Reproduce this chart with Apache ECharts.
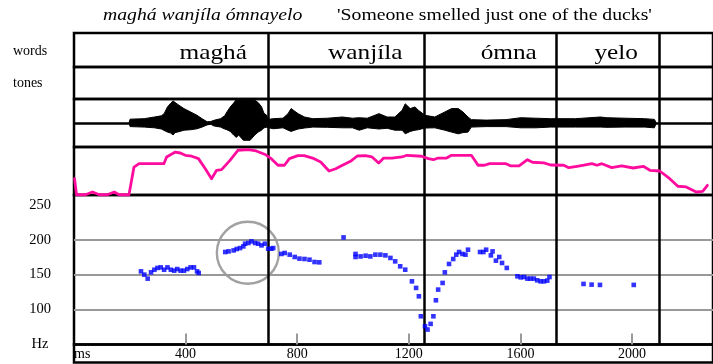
<!DOCTYPE html>
<html>
<head>
<meta charset="utf-8">
<script src="https://cdn.jsdelivr.net/npm/echarts@6.0.0/dist/echarts.min.js"></script>
<style>
  html, body { margin: 0; padding: 0; background: #fff; }
  #chart { width: 713px; height: 364px; }
</style>
</head>
<body>
<div id="chart"></div>
<script>
// ---- Utterance annotation ----
const sentence = 'maghá wanjíla ómnayelo';
const gloss = "'Someone smelled just one of the ducks'";
const tierNames = ['words', 'tones'];
const words = ['maghá', 'wanjíla', 'ómna', 'yelo'];
const wordLabelMs = [499, 1044, 1558, 1943];      // where each word label sits
const wordBoundaryMs = [696, 1254, 1730, 2096];   // word boundaries (ms)

// ---- Time axis ----
const timeMaxMs = 2290;
const timeTickMs = [400, 800, 1200, 1600, 2000];
const timeLabelMs = [0, 400, 800, 1200, 1600, 2000];
const timeUnit = 'ms';

// ---- Pitch axis ----
const hzMin = 50, hzMax = 264, hzStep = 50;
const hzUnit = 'Hz';
const pitchGridHz = [100, 150, 200];

// ---- Waveform envelope (normalised amplitude) ----
const waveMs = [197,201,252,288,313,323,335,347,355,362,371,394,418,441,459,477,490,501,525,540,
  548,560,572,582,590,607,631,648,660,672,681,690,696,714,749,767,778,785,803,826,
  856,909,962,998,1022,1051,1093,1122,1150,1176,1187,1205,1222,1234,1258,1293,1329,1353,1377,1394,
  1412,1424,1477,1548,1601,1655,1708,1797,1886,1910,1974,2045,2080,2087];
const waveTop = [0,0.16,0.18,0.25,0.3,0.39,0.67,0.83,0.92,0.88,0.78,0.6,0.46,0.32,0.18,0.05,0.06,0.11,0.18,0.3,
  0.46,0.67,0.83,0.98,1.0,1.0,1.0,0.95,0.85,0.68,0.4,0.33,0.15,0.18,0.2,0.39,0.6,0.67,0.39,0.25,
  0.18,0.2,0.25,0.2,0.22,0.2,0.39,0.25,0.25,0.53,0.8,0.6,0.67,0.53,0.32,0.25,0.46,0.6,0.6,0.46,
  0.25,0.14,0.12,0.14,0.22,0.2,0.18,0.18,0.25,0.22,0.2,0.18,0.15,0];
const waveBottom = [0,-0.15,-0.17,-0.2,-0.25,-0.31,-0.38,-0.42,-0.5,-0.4,-0.38,-0.3,-0.28,-0.24,-0.17,-0.08,-0.05,-0.12,-0.17,-0.25,
  -0.28,-0.35,-0.5,-0.6,-0.5,-0.72,-0.72,-0.5,-0.38,-0.3,-0.2,-0.18,-0.12,-0.24,-0.2,-0.3,-0.35,-0.38,-0.25,-0.21,
  -0.17,-0.18,-0.2,-0.2,-0.3,-0.2,-0.25,-0.22,-0.3,-0.3,-0.45,-0.35,-0.3,-0.28,-0.21,-0.2,-0.3,-0.38,-0.45,-0.4,
  -0.38,-0.17,-0.15,-0.15,-0.2,-0.2,-0.17,-0.17,-0.17,-0.18,-0.17,-0.17,-0.2,0];

// ---- Intensity contour (dB) ----
const intensityMs = [2,9,41,66,91,119,144,162,197,215,233,322,332,363,381,399,422,446,470,493,
  511,529,559,588,624,653,683,707,731,754,772,802,825,855,884,914,938,962,991,1015,
  1044,1068,1092,1110,1139,1175,1193,1246,1270,1288,1305,1335,1353,1424,1435,1448,1471,1489,1548,1566,
  1595,1625,1643,1684,1708,1755,1773,1803,1827,1856,1874,1892,1927,1963,2004,2040,2064,2099,2135,2164,
  2194,2230,2253,2270];
const intensityDb = [53.6,40.2,40.2,42.5,40.2,40.2,42.5,40.2,40.2,63.3,66.1,66.1,71.7,75.8,75,73.1,72.3,70.3,62.1,53.6,
  60.6,61.1,68.9,77.3,77.8,76.7,74,70.3,64.8,64.8,70.3,72.8,72.8,70.8,67.5,60,61.9,64.8,68.1,72.5,
  72.8,71.7,66.7,70.8,70.8,71.7,73.1,72.3,70.3,69.4,70.8,70.8,73.1,73.1,69.4,64.8,64.8,66.1,66.1,64.2,
  64.2,69.4,67.3,66.7,65,64.8,62.8,63.9,64.8,66.1,64.8,66.1,62.8,64.2,62.5,63.9,60.6,60,53.6,47.3,
  46.7,42.5,43.1,48.1];
const intensityMinDb = 40, intensityMaxDb = 80;

// ---- Pitch track (Hz) ----
const pitchMs = [240,252,264,276,288,299,311,323,335,347,359,370,382,394,406,418,430,441,447,
  542,554,572,583,595,607,613,625,636,649,660,672,684,696,707,714,
  743,755,773,791,808,826,844,862,879,
  966,
  1009,1009,1027,1045,1062,1080,1098,1116,1134,1151,1169,1187,1211,1226,1236,1243,1258,1267,1278,1288,
  1297,1305,1321,1329,1344,1359,1370,1380,1392,1403,1412,
  1455,1467,1477,1494,1500,1512,1524,1534,1551,
  1589,1601,1613,1625,1636,1648,1660,1672,1684,1696,1704,
  1826,1855,1885,2006];
const pitchHz = [154.7,150,144.3,153.3,157,159.6,160.4,157,160.4,157,155.7,158,155.7,155.7,158,160.4,160.4,154.7,152.4,
  182.4,183.3,184.7,186.7,188,190.4,194.3,195.3,197.6,195.3,194.3,191.9,194.3,187.1,187.1,188,
  179.6,181,178.6,175.3,172.9,172.4,171.4,168.1,167.6,
  203.3,
  179.6,175.3,176.1,177.1,176.1,178.6,178.6,177.6,173.9,169,161.9,157.1,140.4,131,119,90.4,76.1,71.4,79.5,90.4,
  113.3,128.6,138.1,153.3,165.3,172.4,178.6,182.4,179.6,178.6,185.7,
  182.4,182.4,185.7,177.6,183.3,170,175.3,166.7,159.6,
  147.6,146.1,146.6,144.3,144.3,144.3,141.9,140.4,140.4,141.4,146.6,
  136.7,135.7,135.3,135.3];

// Highlighted region on the pitch track
const highlightMs = 623, highlightHz = 181.4;

// ---- Layout ----
const serif = '"Liberation Serif", "Times New Roman", serif';
const plotLeft = 74, plotWidth = 645;
const rows = [
  { top: 33, height: 34 },     // words tier
  { top: 67, height: 32 },     // tones tier
  { top: 99, height: 48 },     // waveform
  { top: 147, height: 48 },    // intensity
  { top: 195, height: 149.5 }, // pitch
  { top: 344.5, height: 18 },  // time labels
  { top: 33, height: 311.5 }   // overlay for word boundaries
];
const frame = { color: '#000', width: 2.5 };

const grids = rows.map((r, i) => ({
  left: plotLeft, width: plotWidth, top: r.top, height: r.height,
  show: i !== 6, borderColor: frame.color, borderWidth: frame.width,
  backgroundColor: 'transparent'
}));

const xAxes = rows.map((r, i) => {
  const ax = {
    type: 'value', gridIndex: i, min: 0, max: timeMaxMs,
    show: i === 4,
    axisLine: { show: false },
    splitLine: { show: false },
    axisTick: { show: false },
    axisLabel: { show: false }
  };
  if (i === 4) {
    ax.axisTick = {
      show: true, inside: true, length: 11, customValues: timeTickMs,
      lineStyle: { color: '#999', width: 2 }
    };
    ax.axisLabel = {
      show: true, margin: 3, fontFamily: serif, fontSize: 14, color: '#000',
      customValues: timeLabelMs, alignMinLabel: 'left',
      formatter: v => (v === 0 ? timeUnit : String(v))
    };
  }
  return ax;
});

const yRange = [[0, 1], [0, 1], [-1, 1], [intensityMinDb, intensityMaxDb], [hzMin, hzMax], [0, 1], [0, 1]];
const yAxes = yRange.map((rg, i) => {
  const ax = {
    type: 'value', gridIndex: i, min: rg[0], max: rg[1], show: i === 4,
    axisLine: { show: false }, axisTick: { show: false }, splitLine: { show: false },
    axisLabel: { show: false }
  };
  if (i === 4) {
    ax.interval = hzStep;
    ax.axisLabel = {
      show: true, margin: 34, align: 'center', fontFamily: serif, fontSize: 14.5, color: '#000',
      showMaxLabel: false, showMinLabel: true,
      formatter: v => (v === hzMin ? hzUnit : String(v))
    };
  }
  return ax;
});

const noLabel = { show: false };

const series = [
  // waveform envelope, upper and lower halves
  {
    type: 'line', xAxisIndex: 2, yAxisIndex: 2, z: 3,
    data: waveMs.map((t, i) => [t, waveTop[i]]),
    showSymbol: false, symbol: 'none', silent: true,
    lineStyle: { color: '#000', width: 1 },
    areaStyle: { color: '#000', opacity: 1 },
    markLine: {
      symbol: ['none', 'none'], silent: true, label: noLabel,
      lineStyle: { color: '#000', width: frame.width, type: 'solid' },
      data: [{ yAxis: 0 }]
    }
  },
  {
    type: 'line', xAxisIndex: 2, yAxisIndex: 2, z: 3,
    data: waveMs.map((t, i) => [t, waveBottom[i]]),
    showSymbol: false, symbol: 'none', silent: true,
    lineStyle: { color: '#000', width: 1 },
    areaStyle: { color: '#000', opacity: 1 }
  },
  // intensity contour
  {
    type: 'line', xAxisIndex: 3, yAxisIndex: 3, z: 6, clip: false,
    data: intensityMs.map((t, i) => [t, intensityDb[i]]),
    showSymbol: false, symbol: 'none', silent: true,
    lineStyle: { color: '#ff0c9f', width: 2.8, join: 'round', cap: 'round' }
  },
  // pitch reference lines
  {
    type: 'scatter', xAxisIndex: 4, yAxisIndex: 4, z: 1, data: [], silent: true,
    markLine: {
      symbol: ['none', 'none'], silent: true, label: noLabel,
      lineStyle: { color: '#999', width: 2.2, type: 'solid' },
      data: pitchGridHz.map(v => ({ yAxis: v }))
    }
  },
  // highlight circle
  {
    type: 'scatter', xAxisIndex: 4, yAxisIndex: 4, z: 2, silent: true,
    data: [[highlightMs, highlightHz]],
    symbol: 'circle', symbolSize: 62,
    itemStyle: { color: 'rgba(0,0,0,0)', borderColor: '#8a8a8a', borderWidth: 2.4 }
  },
  // word boundaries across all tiers
  {
    type: 'scatter', xAxisIndex: 6, yAxisIndex: 6, z: 4, data: [], silent: true,
    markLine: {
      symbol: ['none', 'none'], silent: true, label: noLabel,
      lineStyle: { color: '#000', width: frame.width, type: 'solid' },
      data: wordBoundaryMs.map(v => ({ xAxis: v }))
    }
  },
  // pitch points
  {
    type: 'scatter', xAxisIndex: 4, yAxisIndex: 4, z: 5, silent: true,
    data: pitchMs.map((t, i) => [t, pitchHz[i]]),
    symbol: 'rect', symbolSize: 4.6,
    itemStyle: { color: '#0000ff' }
  }
];

const chart = echarts.init(document.getElementById('chart'));
chart.setOption({
  animation: false,
  backgroundColor: '#fff',
  grid: grids,
  xAxis: xAxes,
  yAxis: yAxes,
  series: series
});

// Text placed on top: sentence, gloss, tier names, and word labels
function textEl(text, x, y, opts) {
  return {
    type: 'text', x: x, y: y, z: 20, silent: true,
    scaleX: opts.scaleX || 1,
    style: {
      text: text, fill: '#000',
      fontFamily: serif, fontSize: opts.size, fontStyle: opts.italic ? 'italic' : 'normal',
      align: opts.align || 'left', verticalAlign: 'middle',
      textAlign: opts.align || 'left', textVerticalAlign: 'middle'
    }
  };
}

const graphics = [
  textEl(sentence, 103, 16, { size: 17, italic: true, scaleX: 1.16 }),
  textEl(gloss, 337, 16, { size: 17, scaleX: 1.16 }),
  textEl(tierNames[0], 13, 51, { size: 14 }),
  textEl(tierNames[1], 13, 83, { size: 14 })
];
words.forEach((w, i) => {
  const p = chart.convertToPixel({ gridIndex: 0 }, [wordLabelMs[i], 0.5]);
  graphics.push(textEl(w, p[0], p[1] + 3, { size: 22, align: 'center', scaleX: 1.15 }));
});
chart.setOption({ graphic: { elements: graphics } });
</script>
</body>
</html>
